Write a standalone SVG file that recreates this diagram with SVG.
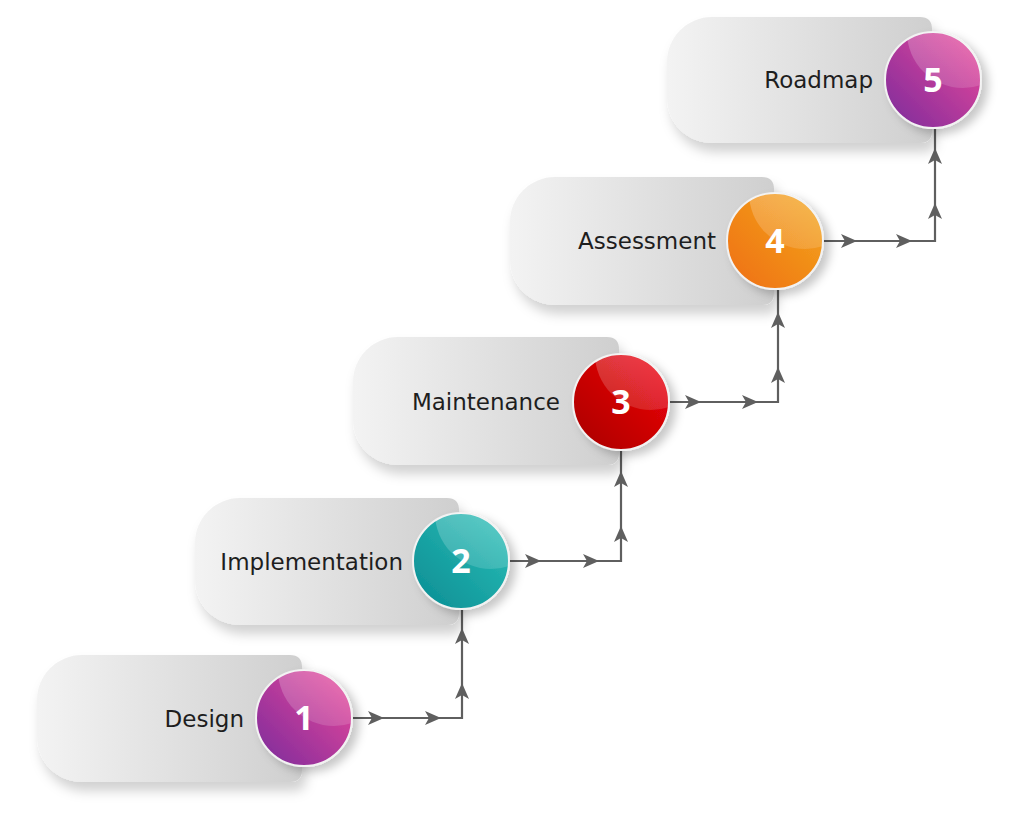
<svg xmlns="http://www.w3.org/2000/svg" xmlns:xlink="http://www.w3.org/1999/xlink" width="1024" height="821" viewBox="0 0 1024 821">
<style>
.lbl{font-family:"DejaVu Sans","Liberation Sans",sans-serif;font-size:23px;fill:#1e1e1e;text-anchor:end}
.num{font-family:"Open Sans","DejaVu Sans",sans-serif;font-weight:700;font-size:34px;fill:#fff;text-anchor:middle}
.card{fill:url(#cardG);filter:url(#cardSh)}
.ball{stroke:#f2f2f2;stroke-width:2;filter:url(#ballSh)}
.gloss{fill:url(#glossG)}
.conn{fill:none;stroke:#5f5f5f;stroke-width:2.2}
.ahd{fill:#5f5f5f}
</style>
<defs>
<linearGradient id="cardG" x1="0" y1="0" x2="1" y2="0">
<stop offset="0" stop-color="#f3f3f3"/><stop offset="1" stop-color="#cfcfcf"/>
</linearGradient>
<linearGradient id="g15" x1="0" y1="1" x2="1" y2="0">
<stop offset="0" stop-color="#7a2a9c"/><stop offset="1" stop-color="#ee4a9a"/>
</linearGradient>
<linearGradient id="g2" x1="0" y1="1" x2="1" y2="0">
<stop offset="0" stop-color="#0a8c93"/><stop offset="1" stop-color="#2cc0b8"/>
</linearGradient>
<linearGradient id="g3" x1="0" y1="1" x2="1" y2="0">
<stop offset="0" stop-color="#a80000"/><stop offset="1" stop-color="#f2000a"/>
</linearGradient>
<linearGradient id="g4" x1="0" y1="1" x2="1" y2="0">
<stop offset="0" stop-color="#ef6e12"/><stop offset="1" stop-color="#f3a81e"/>
</linearGradient>
<linearGradient id="glossG" x1="0" y1="0" x2="0" y2="1">
<stop offset="0" stop-color="#fff" stop-opacity="0.32"/><stop offset="1" stop-color="#fff" stop-opacity="0.14"/>
</linearGradient>
<filter id="cardSh" x="-10%" y="-10%" width="125%" height="140%">
<feDropShadow dx="4" dy="9" stdDeviation="6" flood-color="#000" flood-opacity="0.18"/>
</filter>
<filter id="ballSh" x="-20%" y="-20%" width="150%" height="150%">
<feDropShadow dx="6" dy="5" stdDeviation="5" flood-color="#000" flood-opacity="0.22"/>
</filter>
<clipPath id="c1"><circle cx="304" cy="718" r="48"/></clipPath>
<clipPath id="c2"><circle cx="461" cy="561" r="48"/></clipPath>
<clipPath id="c3"><circle cx="621" cy="402" r="48"/></clipPath>
<clipPath id="c4"><circle cx="775" cy="241" r="48"/></clipPath>
<clipPath id="c5"><circle cx="933" cy="80" r="48"/></clipPath>
<path id="ar" class="ahd" d="M-16,-7 L0,0 L-16,7 L-12,0 Z"/>
</defs>

<g id="connectors">
<path class="conn" d="M352,718 H462 V610"/>
<use href="#ar" transform="translate(384,718)"/><use href="#ar" transform="translate(441,718)"/>
<use href="#ar" transform="translate(462,683) rotate(-90)"/><use href="#ar" transform="translate(462,628) rotate(-90)"/>
<path class="conn" d="M509,561 H621 V451"/>
<use href="#ar" transform="translate(541,561)"/><use href="#ar" transform="translate(599,561)"/>
<use href="#ar" transform="translate(621,526) rotate(-90)"/><use href="#ar" transform="translate(621,471) rotate(-90)"/>
<path class="conn" d="M669,402 H778 V290"/>
<use href="#ar" transform="translate(701,402)"/><use href="#ar" transform="translate(758,402)"/>
<use href="#ar" transform="translate(778,367) rotate(-90)"/><use href="#ar" transform="translate(778,312) rotate(-90)"/>
<path class="conn" d="M823,241 H935 V129"/>
<use href="#ar" transform="translate(857,241)"/><use href="#ar" transform="translate(912,241)"/>
<use href="#ar" transform="translate(935,203) rotate(-90)"/><use href="#ar" transform="translate(935,148) rotate(-90)"/>
</g>

<g id="node1">
<path class="card" d="M82,655 H290 Q302,655 302,667 V770 Q302,782 290,782 H82 A45,45 0 0 1 37,737 V700 A45,45 0 0 1 82,655 Z"/>
<text class="lbl" x="244" y="727">Design</text>
<circle class="ball" cx="304" cy="718" r="48" fill="url(#g15)"/>
<circle class="gloss" cx="334" cy="670" r="56" clip-path="url(#c1)"/>
<text class="num" x="304" y="730">1</text>
</g>

<g id="node2">
<path class="card" d="M240,498 H447 Q459,498 459,510 V613 Q459,625 447,625 H240 A45,45 0 0 1 195,580 V543 A45,45 0 0 1 240,498 Z"/>
<text class="lbl" x="403" y="570">Implementation</text>
<circle class="ball" cx="461" cy="561" r="48" fill="url(#g2)"/>
<circle class="gloss" cx="491" cy="513" r="56" clip-path="url(#c2)"/>
<text class="num" x="461" y="573">2</text>
</g>

<g id="node3">
<path class="card" d="M398,337 H607 Q619,337 619,349 V453 Q619,465 607,465 H398 A45,45 0 0 1 353,420 V382 A45,45 0 0 1 398,337 Z"/>
<text class="lbl" x="560" y="410">Maintenance</text>
<circle class="ball" cx="621" cy="402" r="48" fill="url(#g3)"/>
<circle class="gloss" cx="651" cy="354" r="56" clip-path="url(#c3)"/>
<text class="num" x="621" y="414">3</text>
</g>

<g id="node4">
<path class="card" d="M555,177 H762 Q774,177 774,189 V293 Q774,305 762,305 H555 A45,45 0 0 1 510,260 V222 A45,45 0 0 1 555,177 Z"/>
<text class="lbl" x="716" y="249">Assessment</text>
<circle class="ball" cx="775" cy="241" r="48" fill="url(#g4)"/>
<circle class="gloss" cx="805" cy="193" r="56" clip-path="url(#c4)"/>
<text class="num" x="775" y="253">4</text>
</g>

<g id="node5">
<path class="card" d="M712,17 H920 Q932,17 932,29 V131 Q932,143 920,143 H712 A45,45 0 0 1 667,98 V62 A45,45 0 0 1 712,17 Z"/>
<text class="lbl" x="873" y="88">Roadmap</text>
<circle class="ball" cx="933" cy="80" r="48" fill="url(#g15)"/>
<circle class="gloss" cx="963" cy="32" r="56" clip-path="url(#c5)"/>
<text class="num" x="933" y="92">5</text>
</g>
</svg>
